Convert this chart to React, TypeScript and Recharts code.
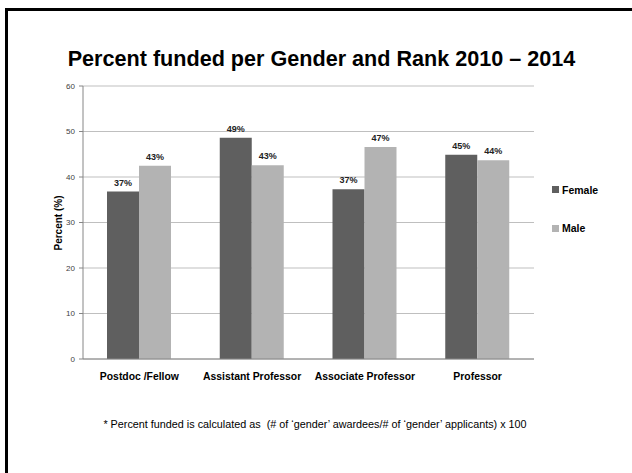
import { BarChart, Bar, XAxis, YAxis, CartesianGrid, LabelList } from "recharts";

// ranks on the x axis
const categories = ["Postdoc /Fellow", "Assistant Professor", "Associate Professor", "Professor"];
// percent funded
const femaleValues = [36.8, 48.6, 37.3, 44.9];
const maleValues = [42.5, 42.6, 46.6, 43.7];
const yTicks = [0, 10, 20, 30, 40, 50, 60];
// boundaries between categories, where the x axis has its tick marks
const edgeTicks = [0, 1, 2, 3, 4];
const seriesNames = ["Female", "Male"];
const seriesColors = ["#5f5f5f", "#b3b3b3"];

const data = categories.map((name, i) => ({
  name,
  female: femaleValues[i],
  male: maleValues[i],
}));

const font = "'Liberation Sans', Arial, sans-serif";
const axisColor = "#868686";
const pct = (v: any) => `${Math.round(Number(v))}%`;

export default function App() {
  return (
    <div
      style={{
        position: "absolute",
        left: 0,
        top: 0,
        width: 632,
        height: 473,
        overflow: "hidden",
        background: "#fff",
        fontFamily: font,
      }}
    >
      {/* slide frame, only top and left edges are visible */}
      <div
        style={{
          position: "absolute",
          left: 5,
          top: 8,
          width: 700,
          height: 600,
          borderTop: "3px solid #000",
          borderLeft: "3px solid #000",
        }}
      />

      <div
        style={{
          position: "absolute",
          left: 0,
          top: 48,
          width: 643,
          textAlign: "center",
          fontSize: 21.6,
          lineHeight: "22px",
          fontWeight: 700,
          color: "#000",
          whiteSpace: "nowrap",
        }}
      >
        Percent funded per Gender and Rank 2010 – 2014
      </div>

      <div style={{ position: "absolute", left: 0, top: 0 }}>
        <BarChart
          width={632}
          height={473}
          data={data}
          margin={{ top: 86, right: 98, bottom: 84, left: 53 }}
          barSize={32}
          barGap={0}
        >
          <CartesianGrid vertical={false} stroke="#bfbfbf" />
          <XAxis
            xAxisId="edges"
            type="number"
            domain={[0, 4]}
            ticks={edgeTicks}
            tick={false}
            axisLine={false}
            tickLine={{ stroke: axisColor }}
            tickSize={4}
            height={0}
          />
          <XAxis
            dataKey="name"
            interval={0}
            tickLine={false}
            tickSize={0}
            tickMargin={13.5}
            axisLine={{ stroke: axisColor }}
            tick={{ fontSize: 10.4, fontWeight: 700, fill: "#000", fontFamily: font }}
            height={30}
          />
          <YAxis
            domain={[0, 60]}
            ticks={yTicks}
            interval={0}
            width={30}
            tickSize={4}
            tickMargin={4}
            axisLine={{ stroke: axisColor }}
            tickLine={{ stroke: axisColor }}
            tick={{ fontSize: 8, fill: "#404040", fontFamily: font }}
          />
          <Bar dataKey="female" name={seriesNames[0]} fill={seriesColors[0]} isAnimationActive={false}>
            <LabelList
              dataKey="female"
              position="top"
              offset={6}
              formatter={pct}
              fontSize={9}
              fontWeight={700}
              fill="#222"
              fontFamily={font}
            />
          </Bar>
          <Bar dataKey="male" name={seriesNames[1]} fill={seriesColors[1]} isAnimationActive={false}>
            <LabelList
              dataKey="male"
              position="top"
              offset={6}
              formatter={pct}
              fontSize={9}
              fontWeight={700}
              fill="#222"
              fontFamily={font}
            />
          </Bar>
        </BarChart>
      </div>

      {/* y axis title */}
      <div
        style={{
          position: "absolute",
          left: 57.7,
          top: 222.5,
          transform: "translate(-50%, -50%) rotate(-90deg)",
          fontSize: 10,
          fontWeight: 700,
          whiteSpace: "nowrap",
          color: "#000",
        }}
      >
        Percent (%)
      </div>

      {/* legend */}
      {seriesNames.map((n, i) => (
        <div
          key={n}
          style={{
            position: "absolute",
            left: 552,
            top: 183 + i * 38.5,
            height: 13,
            display: "flex",
            alignItems: "center",
            fontSize: 10.5,
            fontWeight: 700,
            color: "#000",
          }}
        >
          <span style={{ width: 7, height: 7, background: seriesColors[i], marginRight: 3 }} />
          {n}
        </div>
      ))}

      <div
        style={{
          position: "absolute",
          left: 0,
          top: 418,
          width: 630,
          textAlign: "center",
          fontSize: 10.8,
          lineHeight: "12px",
          color: "#000",
          whiteSpace: "pre",
        }}
      >
        {"* Percent funded is calculated as  (# of \u2018gender\u2019 awardees/# of \u2018gender\u2019 applicants) x 100"}
      </div>
    </div>
  );
}
